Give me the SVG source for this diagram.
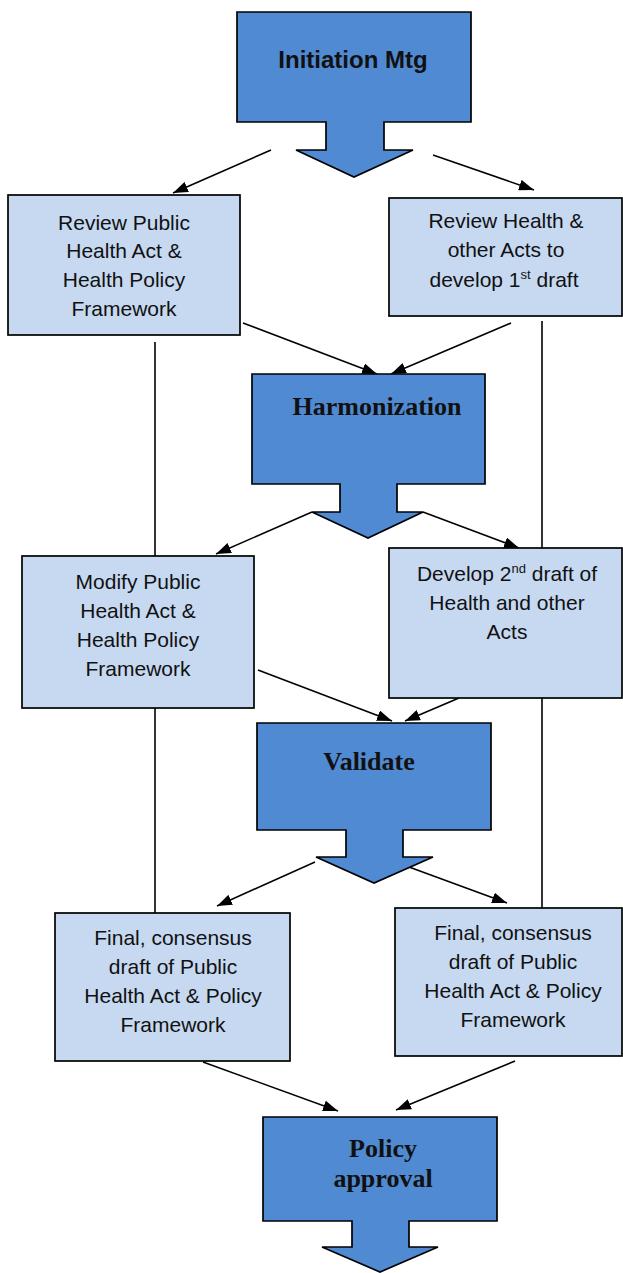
<svg xmlns="http://www.w3.org/2000/svg" width="623" height="1273" viewBox="0 0 623 1273">
  <style>
    .callout { fill: #508AD2; stroke: #000; stroke-width: 1.7; stroke-linejoin: miter; }
    .box { fill: #C6D9F1; stroke: #000; stroke-width: 1.7; }
    .btxt { font-family: "Liberation Sans", Arial, sans-serif; font-size: 21px; fill: #111; text-anchor: middle; }
    .sup { font-size: 13px; }
    .ctxt-sans { font-family: "Liberation Sans", Arial, sans-serif; font-weight: bold; font-size: 24px; fill: #111; text-anchor: middle; }
    .ctxt-serif { font-family: "Liberation Serif", "Times New Roman", serif; font-weight: bold; font-size: 26px; fill: #111; text-anchor: middle; }
    .conn line { stroke: #000; stroke-width: 1.6; fill: none; }
  </style>
  <defs>
    <marker id="arrow" viewBox="0 0 15 11" refX="15" refY="5.5" markerWidth="15" markerHeight="11" markerUnits="userSpaceOnUse" orient="auto">
      <path d="M0,0 L15,5.5 L0,11 Z" fill="#000"/>
    </marker>
  </defs>

  <rect width="623" height="1273" fill="#fff"/>

  <!-- connectors -->
  <g id="connectors" class="conn">
    <line x1="271" y1="150" x2="173" y2="193" marker-end="url(#arrow)"/>
    <line x1="433" y1="155" x2="534" y2="190" marker-end="url(#arrow)"/>
    <line x1="243" y1="323" x2="377" y2="374" marker-end="url(#arrow)"/>
    <line x1="511" y1="323" x2="391" y2="374" marker-end="url(#arrow)"/>
    <line x1="155" y1="342" x2="155" y2="556"/>
    <line x1="542" y1="321" x2="542" y2="548"/>
    <line x1="312" y1="512" x2="216" y2="554" marker-end="url(#arrow)"/>
    <line x1="423" y1="512" x2="519" y2="548" marker-end="url(#arrow)"/>
    <line x1="258" y1="670" x2="392" y2="721" marker-end="url(#arrow)"/>
    <line x1="459" y1="698" x2="405" y2="721" marker-end="url(#arrow)"/>
    <line x1="155" y1="708" x2="155" y2="913"/>
    <line x1="542" y1="698" x2="542" y2="908"/>
    <line x1="315" y1="862" x2="217" y2="906" marker-end="url(#arrow)"/>
    <line x1="409" y1="867" x2="507" y2="903" marker-end="url(#arrow)"/>
    <line x1="203" y1="1062" x2="338" y2="1111" marker-end="url(#arrow)"/>
    <line x1="515" y1="1061" x2="396" y2="1110" marker-end="url(#arrow)"/>
  </g>

  <!-- Initiation meeting -->
  <g id="initiation">
    <path class="callout" d="M237,12 H471 V122 H384 V150 H413 L354,177 L296,150 H326 V122 H237 Z"/>
    <text class="ctxt-sans" x="353" y="68">Initiation Mtg</text>
  </g>

  <!-- Review Public Health Act -->
  <g id="review-public">
    <rect class="box" x="8" y="195" width="232" height="140"/>
    <text class="btxt" x="124" y="230">Review Public</text>
    <text class="btxt" x="124" y="258">Health Act &amp;</text>
    <text class="btxt" x="124" y="287">Health Policy</text>
    <text class="btxt" x="124" y="316">Framework</text>
  </g>

  <!-- Review Health and other Acts -->
  <g id="review-health">
    <rect class="box" x="389" y="198" width="233" height="118"/>
    <text class="btxt" x="506" y="228">Review Health &amp;</text>
    <text class="btxt" x="506" y="257">other Acts to</text>
    <text class="btxt" x="504" y="287">develop 1<tspan class="sup" dy="-8">st</tspan><tspan dy="8"> draft</tspan></text>
  </g>

  <!-- Harmonization -->
  <g id="harmonization">
    <path class="callout" d="M252,374 H485 V484 H397 V512 H423 L368,538 L312,512 H340 V484 H252 Z"/>
    <text class="ctxt-serif" x="377" y="415">Harmonization</text>
  </g>

  <!-- Modify Public Health Act -->
  <g id="modify-public">
    <rect class="box" x="22" y="556" width="232" height="152"/>
    <text class="btxt" x="138" y="589">Modify Public</text>
    <text class="btxt" x="138" y="618">Health Act &amp;</text>
    <text class="btxt" x="138" y="647">Health Policy</text>
    <text class="btxt" x="138" y="676">Framework</text>
  </g>

  <!-- Develop second draft -->
  <g id="develop-second">
    <rect class="box" x="389" y="548" width="233" height="150"/>
    <text class="btxt" x="507" y="581">Develop 2<tspan class="sup" dy="-8">nd</tspan><tspan dy="8"> draft of</tspan></text>
    <text class="btxt" x="507" y="610">Health and other</text>
    <text class="btxt" x="507" y="639">Acts</text>
  </g>

  <!-- Validate -->
  <g id="validate">
    <path class="callout" d="M257,723 H491 V830 H403 V857 H433 L374,883 L316,857 H346 V830 H257 Z"/>
    <text class="ctxt-serif" x="369" y="770">Validate</text>
  </g>

  <!-- Final consensus draft, left -->
  <g id="final-left">
    <rect class="box" x="55" y="913" width="235" height="148"/>
    <text class="btxt" x="173" y="945">Final, consensus</text>
    <text class="btxt" x="173" y="974">draft of Public</text>
    <text class="btxt" x="173" y="1003">Health Act &amp; Policy</text>
    <text class="btxt" x="173" y="1032">Framework</text>
  </g>

  <!-- Final consensus draft, right -->
  <g id="final-right">
    <rect class="box" x="395" y="908" width="227" height="148"/>
    <text class="btxt" x="513" y="940">Final, consensus</text>
    <text class="btxt" x="513" y="969">draft of Public</text>
    <text class="btxt" x="513" y="998">Health Act &amp; Policy</text>
    <text class="btxt" x="513" y="1027">Framework</text>
  </g>

  <!-- Policy approval -->
  <g id="policy-approval">
    <path class="callout" d="M263,1117 H497 V1221 H409 V1247 H438 L380,1272 L322,1247 H352 V1221 H263 Z"/>
    <text class="ctxt-serif" x="383" y="1157">Policy</text>
    <text class="ctxt-serif" x="383" y="1187">approval</text>
  </g>
</svg>
